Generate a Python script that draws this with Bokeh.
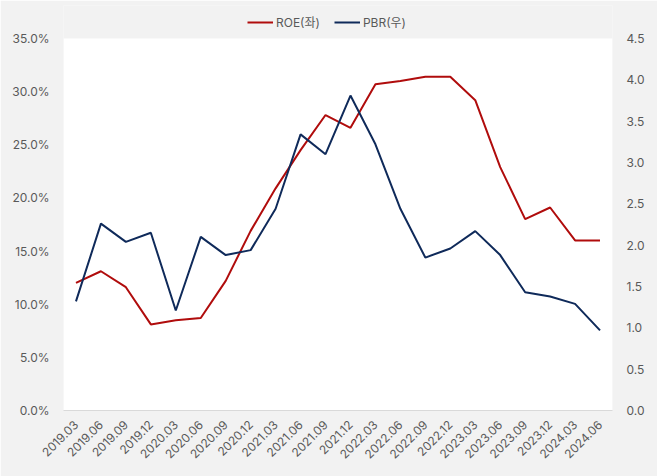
from bokeh.plotting import figure
from bokeh.models import (Range1d, LinearAxis, FixedTicker, PrintfTickFormatter,
                          Legend, LegendItem, ColumnDataSource, BoxAnnotation)
from bokeh.embed import file_html
from bokeh.resources import INLINE
import math

quarters = ["2019.03", "2019.06", "2019.09", "2019.12", "2020.03", "2020.06",
            "2020.09", "2020.12", "2021.03", "2021.06", "2021.09", "2021.12",
            "2022.03", "2022.06", "2022.09", "2022.12", "2023.03", "2023.06",
            "2023.09", "2023.12", "2024.03", "2024.06"]
roe = [12.0, 13.1, 11.6, 8.1, 8.5, 8.7, 12.2, 16.9, 20.9, 24.5, 27.8, 26.6,
       30.7, 31.0, 31.4, 31.4, 29.2, 22.9, 18.0, 19.1, 16.0, 16.0]
pbr = [1.32, 2.26, 2.04, 2.15, 1.21, 2.10, 1.88, 1.94, 2.44, 3.34, 3.10, 3.81,
       3.22, 2.44, 1.85, 1.96, 2.17, 1.88, 1.43, 1.38, 1.29, 0.97]
left_ticks = [0, 5, 10, 15, 20, 25, 30, 35]
right_ticks = [0, 0.5, 1.0, 1.5, 2.0, 2.5, 3.0, 3.5, 4.0, 4.5]
left_max = 35
right_max = 4.5

FONT = "Inter"
LFONT = "Inter, 'Noto Sans CJK KR'"
TXT = "#595959"
BG = "#f2f2f2"

# frame extends above the plotting area to host the legend
TOP_PX = 33
AREA_PX = 372
ext = (AREA_PX + TOP_PX) / AREA_PX

src = ColumnDataSource(dict(q=quarters, roe=roe, pbr=pbr))

p = figure(width=657, height=476, x_range=quarters,
           y_range=Range1d(0, left_max * ext),
           output_backend="svg", toolbar_location=None,
           background_fill_color=BG, border_fill_color=BG,
           min_border_left=63, min_border_right=45, min_border_top=5,
           min_border_bottom=66, outline_line_color=None)
p.x_range.range_padding = 0
p.extra_y_ranges = {"r": Range1d(0, right_max * ext)}

p.add_layout(BoxAnnotation(bottom=0, top=left_max, fill_color="white",
                           fill_alpha=1, line_color=None, level="underlay"))

r1 = p.line("q", "roe", source=src, line_color="#b00c0c", line_width=2)
r2 = p.line("q", "pbr", source=src, y_range_name="r", line_color="#0f2a5a", line_width=2)

p.xgrid.grid_line_color = None
p.ygrid.grid_line_color = None

ax_r = LinearAxis(y_range_name="r")
p.add_layout(ax_r, "right")

for ax in p.yaxis:
    ax.axis_line_color = None
    ax.major_tick_line_color = None
    ax.minor_tick_line_color = None
    ax.major_label_text_font = FONT
    ax.major_label_text_font_size = "12px"
    ax.major_label_text_color = TXT
    ax.major_label_standoff = 8

p.yaxis[0].ticker = FixedTicker(ticks=left_ticks)
p.yaxis[0].formatter = PrintfTickFormatter(format="%.1f%%")
ax_r.ticker = FixedTicker(ticks=right_ticks)
ax_r.formatter = PrintfTickFormatter(format="%.1f")

xa = p.xaxis[0]
xa.axis_line_color = "#d9d9d9"
xa.major_tick_line_color = None
xa.minor_tick_line_color = None
xa.major_label_orientation = math.pi / 4
xa.major_label_text_font = FONT
xa.major_label_text_font_size = "12px"
xa.major_label_text_color = TXT
xa.major_label_standoff = 6

legend = Legend(items=[LegendItem(label="ROE(좌)", renderers=[r1]),
                       LegendItem(label="PBR(우)", renderers=[r2])],
                orientation="horizontal", location=(184, 380),
                background_fill_alpha=0, border_line_color=None,
                label_text_font=LFONT, label_text_font_size="12px",
                label_text_color=TXT, glyph_width=26, glyph_height=16,
                label_standoff=3, spacing=14, padding=2, margin=0,
                label_height=16)
p.add_layout(legend, "center")

open("out.html", "w").write(file_html(p, INLINE))
